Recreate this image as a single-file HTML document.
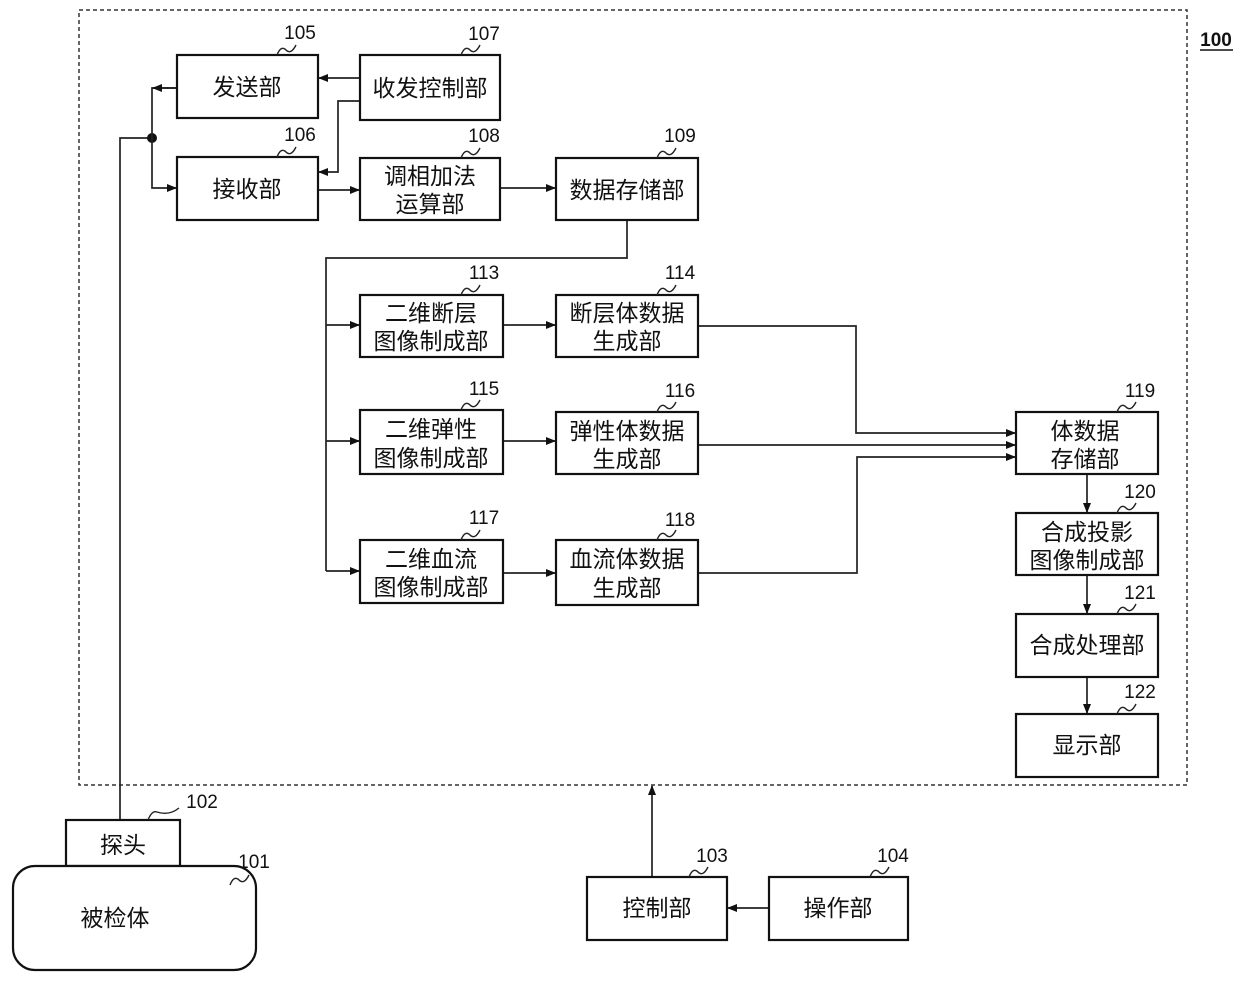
<!DOCTYPE html>
<html><head><meta charset="utf-8"><style>
html,body{margin:0;padding:0;background:#fff;}
svg{display:block;}
text{font-family:"Liberation Sans","Noto Sans CJK SC",sans-serif;fill:#111;}
.b{fill:#fff;stroke:#111;stroke-width:2.2;}
.l{fill:none;stroke:#222;stroke-width:1.7;}
.t{font-size:23px;text-anchor:middle;}
.n{font-size:19px;text-anchor:middle;}
.s{fill:none;stroke:#222;stroke-width:1.4;}
</style></head><body>
<svg width="1240" height="984" viewBox="0 0 1240 984" xmlns="http://www.w3.org/2000/svg">
<defs><marker id="a" markerWidth="10" markerHeight="8" refX="9" refY="4" orient="auto" markerUnits="userSpaceOnUse"><path d="M0,0 L10,4 L0,8 z" fill="#111"/></marker></defs>
<rect x="79" y="10" width="1108" height="775" fill="none" stroke="#333" stroke-width="1.5" stroke-dasharray="4,3"/>
<text x="1216" y="46" class="n" style="font-weight:bold">100</text>
<line x1="1200" y1="50" x2="1233" y2="50" stroke="#111" stroke-width="1.5"/>

<path class="l" d="M120,820 V138 H152"/>
<circle cx="152" cy="138" r="5" fill="#111"/>
<path class="l" d="M177,88 H152 V138" />
<path class="l" d="M177,88 H153" marker-end="url(#a)"/>
<path class="l" d="M152,138 V188 H176" marker-end="url(#a)"/>
<path class="l" d="M360,78 H319" marker-end="url(#a)"/>
<path class="l" d="M360,101 H338 V172 H319" marker-end="url(#a)"/>
<path class="l" d="M318,190 H359" marker-end="url(#a)"/>
<path class="l" d="M500,188 H555" marker-end="url(#a)"/>
<path class="l" d="M627,220 V258 H326 V571"/>
<path class="l" d="M326,325 H359" marker-end="url(#a)"/>
<path class="l" d="M326,441 H359" marker-end="url(#a)"/>
<path class="l" d="M326,571 H359" marker-end="url(#a)"/>
<path class="l" d="M503,325 H555" marker-end="url(#a)"/>
<path class="l" d="M503,441 H555" marker-end="url(#a)"/>
<path class="l" d="M503,573 H555" marker-end="url(#a)"/>
<path class="l" d="M698,326 H856 V433 H1015" marker-end="url(#a)"/>
<path class="l" d="M698,445 H1015" marker-end="url(#a)"/>
<path class="l" d="M698,573 H857 V457 H1015" marker-end="url(#a)"/>
<path class="l" d="M1087,474 V512" marker-end="url(#a)"/>
<path class="l" d="M1087,575 V613" marker-end="url(#a)"/>
<path class="l" d="M1087,677 V713" marker-end="url(#a)"/>
<path class="l" d="M652,877 V786" marker-end="url(#a)"/>
<path class="l" d="M769,908 H728" marker-end="url(#a)"/>

<rect class="b" x="177" y="55" width="141" height="63"/><text class="t" x="247" y="95">发送部</text>
<rect class="b" x="360" y="55" width="140" height="65"/><text class="t" x="430" y="96">收发控制部</text>
<rect class="b" x="177" y="157" width="141" height="63"/><text class="t" x="247" y="197">接收部</text>
<rect class="b" x="360" y="158" width="140" height="62"/><text class="t" x="430" y="184">调相加法</text><text class="t" x="430" y="212">运算部</text>
<rect class="b" x="556" y="158" width="142" height="62"/><text class="t" x="627" y="198">数据存储部</text>
<rect class="b" x="360" y="295" width="143" height="62"/><text class="t" x="431" y="321">二维断层</text><text class="t" x="431" y="349">图像制成部</text>
<rect class="b" x="556" y="295" width="142" height="62"/><text class="t" x="627" y="321">断层体数据</text><text class="t" x="627" y="349">生成部</text>
<rect class="b" x="360" y="410" width="143" height="64"/><text class="t" x="431" y="437">二维弹性</text><text class="t" x="431" y="466">图像制成部</text>
<rect class="b" x="556" y="412" width="142" height="62"/><text class="t" x="627" y="439">弹性体数据</text><text class="t" x="627" y="467">生成部</text>
<rect class="b" x="360" y="540" width="143" height="63"/><text class="t" x="431" y="567">二维血流</text><text class="t" x="431" y="595">图像制成部</text>
<rect class="b" x="556" y="540" width="142" height="65"/><text class="t" x="627" y="567">血流体数据</text><text class="t" x="627" y="596">生成部</text>
<rect class="b" x="1016" y="412" width="142" height="62"/><text class="t" x="1085" y="439">体数据</text><text class="t" x="1085" y="467">存储部</text>
<rect class="b" x="1016" y="513" width="142" height="62"/><text class="t" x="1087" y="540">合成投影</text><text class="t" x="1087" y="568">图像制成部</text>
<rect class="b" x="1016" y="614" width="142" height="63"/><text class="t" x="1087" y="653">合成处理部</text>
<rect class="b" x="1016" y="714" width="142" height="63"/><text class="t" x="1087" y="753">显示部</text>
<rect class="b" x="66" y="820" width="114" height="46"/><text class="t" x="123" y="853">探头</text>
<rect class="b" x="13" y="866" width="243" height="104" rx="22"/><text class="t" x="115" y="926">被检体</text>
<rect class="b" x="587" y="877" width="140" height="63"/><text class="t" x="657" y="916">控制部</text>
<rect class="b" x="769" y="877" width="139" height="63"/><text class="t" x="838" y="916">操作部</text>

<g>
<text class="n" x="300" y="39">105</text><path class="s" d="M277,55 q4,-10 9,-5 q5,5 10,-5"/>
<text class="n" x="484" y="40">107</text><path class="s" d="M461,55 q4,-10 9,-5 q5,5 10,-5"/>
<text class="n" x="300" y="141">106</text><path class="s" d="M277,157 q4,-10 9,-5 q5,5 10,-5"/>
<text class="n" x="484" y="142">108</text><path class="s" d="M461,158 q4,-10 9,-5 q5,5 10,-5"/>
<text class="n" x="680" y="142">109</text><path class="s" d="M657,158 q4,-10 9,-5 q5,5 10,-5"/>
<text class="n" x="484" y="279">113</text><path class="s" d="M461,295 q4,-10 9,-5 q5,5 10,-5"/>
<text class="n" x="680" y="279">114</text><path class="s" d="M657,295 q4,-10 9,-5 q5,5 10,-5"/>
<text class="n" x="484" y="395">115</text><path class="s" d="M461,410 q4,-10 9,-5 q5,5 10,-5"/>
<text class="n" x="680" y="397">116</text><path class="s" d="M657,412 q4,-10 9,-5 q5,5 10,-5"/>
<text class="n" x="484" y="524">117</text><path class="s" d="M461,540 q4,-10 9,-5 q5,5 10,-5"/>
<text class="n" x="680" y="526">118</text><path class="s" d="M657,540 q4,-10 9,-5 q5,5 10,-5"/>
<text class="n" x="1140" y="397">119</text><path class="s" d="M1117,412 q4,-10 9,-5 q5,5 10,-5"/>
<text class="n" x="1140" y="498">120</text><path class="s" d="M1117,513 q4,-10 9,-5 q5,5 10,-5"/>
<text class="n" x="1140" y="599">121</text><path class="s" d="M1117,614 q4,-10 9,-5 q5,5 10,-5"/>
<text class="n" x="1140" y="698">122</text><path class="s" d="M1117,714 q4,-10 9,-5 q5,5 10,-5"/>
<text class="n" x="202" y="808">102</text><path class="s" d="M148,820 q4,-10 9,-8 q12,4 22,-4"/>
<text class="n" x="254" y="868">101</text><path class="s" d="M230,885 q4,-10 9,-5 q5,5 10,-5"/>
<text class="n" x="712" y="862">103</text><path class="s" d="M689,877 q4,-10 9,-5 q5,5 10,-5"/>
<text class="n" x="893" y="862">104</text><path class="s" d="M870,877 q4,-10 9,-5 q5,5 10,-5"/>
</g>
</svg>
</body></html>
